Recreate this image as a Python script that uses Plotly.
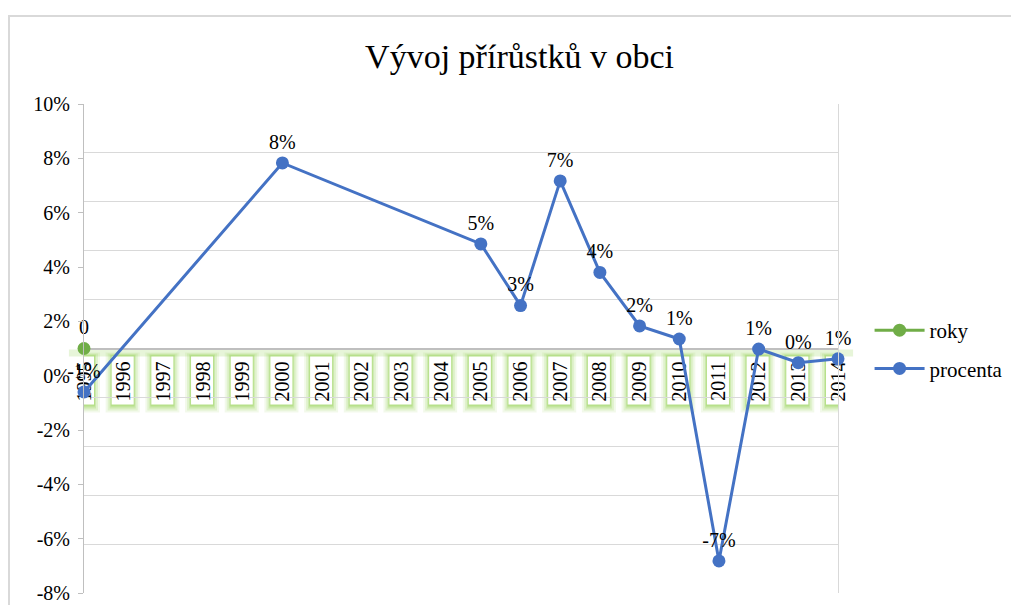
import plotly.graph_objects as go

years = [str(y) for y in range(1995, 2015)]
procenta = [-0.6, None, None, None, None, 7.83, None, None, None, None,
            4.85, 2.58, 7.17, 3.8, 1.83, 1.35, -6.82, 0.98, 0.48, 0.62]
roky = [0] + [None] * 19
title = "Vývoj přírůstků v obci"
y_ticks = [-8, -6, -4, -2, 0, 2, 4, 6, 8, 10]
y_ticktext = [f"{v}%" for v in y_ticks]
y2_ticks = [-1, -0.8, -0.6, -0.4, -0.2, 0, 0.2, 0.4, 0.6, 0.8, 1]

FONT = "Liberation Serif, DejaVu Serif, serif"
BLUE = "#4472C4"
GREEN = "#70AD47"

fig = go.Figure()
fig.add_trace(go.Scatter(
    x=years, y=roky, name="roky", yaxis="y2", legendgroup="a",
    mode="lines+markers+text", text=["0"] + [""] * 19,
    textposition="top center", textfont=dict(family=FONT, size=20, color="#000"),
    line=dict(color=GREEN, width=3), marker=dict(color=GREEN, size=13),
    cliponaxis=False,
))
fig.add_trace(go.Scatter(
    x=years, y=procenta, name="procenta", connectgaps=True, legendgroup="b",
    mode="lines+markers+text", texttemplate="%{y:.0f}%",
    textposition="top center", textfont=dict(family=FONT, size=20, color="#000"),
    line=dict(color=BLUE, width=3), marker=dict(color=BLUE, size=13),
    cliponaxis=False,
))

# white label boxes with a soft green glow behind the category labels
shapes = [
    dict(type="rect", xref="paper", yref="paper", x0=-0.0995, x1=1.5,
         y0=-0.2, y1=1.18, line=dict(color="#d9d9d9", width=2),
         fillcolor="rgba(0,0,0,0)", layer="below"),
]
glow = [(18, -4, -64, 0.12), (16, -5, -62, 0.18), (14, -6, -60, 0.26), (13, -7, -58, 0.36)]
for i in range(len(years)):
    for w, ya, yb, a in glow:
        shapes.append(dict(type="rect", xref="x", yref="y2",
                           xsizemode="pixel", xanchor=i, x0=-w, x1=w - 2,
                           ysizemode="pixel", yanchor=0, y0=ya, y1=yb,
                           line=dict(width=0), fillcolor=f"rgba(146,208,80,{a})",
                           layer="below"))
    shapes.append(dict(type="rect", xref="x", yref="y2",
                       xsizemode="pixel", xanchor=i, x0=-12, x1=10,
                       ysizemode="pixel", yanchor=0, y0=-8, y1=-56,
                       line=dict(width=0), fillcolor="white", layer="below"))
shapes.append(dict(type="rect", xref="paper", yref="y2", xsizemode="scaled",
                   x0=-0.02, x1=1.02, ysizemode="pixel", yanchor=0, y0=-1, y1=-8,
                   line=dict(width=0), fillcolor="rgba(146,208,80,0.22)",
                   layer="below"))

fig.update_layout(
    width=1003, height=597,
    paper_bgcolor="white", plot_bgcolor="white",
    margin=dict(l=76, r=173, t=96, b=12),
    title=dict(text=title, x=0.51, xanchor="center", y=0.92, yanchor="middle",
               font=dict(family=FONT, size=34, color="#000")),
    font=dict(family=FONT, size=20, color="#000"),
    showlegend=True,
    legend=dict(xref="container", yref="container", x=0.859, y=0.428,
                xanchor="left", yanchor="middle",
                font=dict(family=FONT, size=21, color="#000"),
                itemwidth=50, tracegroupgap=8, bgcolor="rgba(0,0,0,0)"),
    xaxis=dict(type="category", categoryarray=years, range=[0, 19],
               anchor="free", position=0.5, side="bottom",
               showticklabels=True, tickangle=-90, ticks="", ticklen=0,
               ticklabelstandoff=8, layer="below traces",
               tickfont=dict(family=FONT, size=20, color="#000"),
               showgrid=False, zeroline=False, showline=False, automargin=False),
    yaxis=dict(range=[-8, 10], tickvals=y_ticks, ticktext=y_ticktext,
               showgrid=False, automargin=False,
               zeroline=False, showline=True, linecolor="#bfbfbf", linewidth=1,
               ticks="outside", ticklen=5, tickcolor="#bfbfbf",
               ticklabelstandoff=4,
               tickfont=dict(family=FONT, size=20, color="#000")),
    yaxis2=dict(range=[-1, 1], overlaying="y", side="right", automargin=False,
                tickvals=y2_ticks, showticklabels=False,
                showgrid=True, gridcolor="#d9d9d9", gridwidth=1,
                zeroline=True, zerolinecolor="#bfbfbf", zerolinewidth=2,
                showline=True, linecolor="#d9d9d9", linewidth=1, ticks=""),
    shapes=shapes,
)

fig.write_html("out.html")
